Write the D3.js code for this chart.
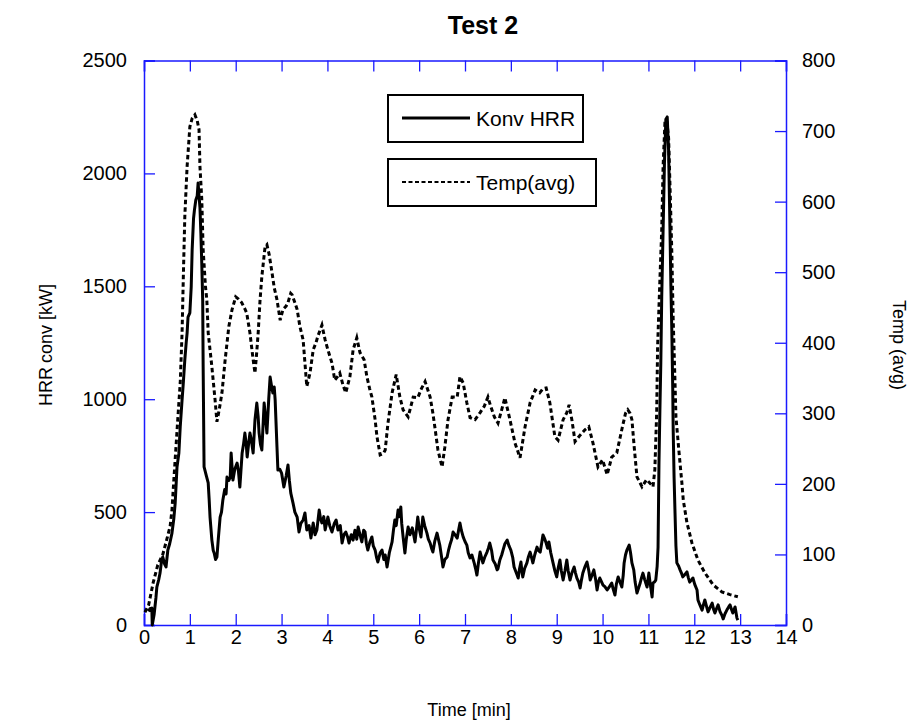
<!DOCTYPE html>
<html lang="en">
<head>
  <meta charset="UTF-8">
  <title>Test 2</title>
  <style>
    body, html { margin: 0; padding: 0; background: #fff; }
    svg { display: block; font-family: "Liberation Sans", Arial, sans-serif; }
  </style>
</head>
<body>
  <svg id="svg" width="918" height="725"></svg>

  <script src="https://d3js.org/d3.v7.min.js"></script>
  <script>
    // ----- DATA ----------
    const xTicks = [0, 1, 2, 3, 4, 5, 6, 7, 8, 9, 10, 11, 12, 13, 14]
    const leftTicks = [0, 500, 1000, 1500, 2000, 2500]
    const rightTicks = [0, 100, 200, 300, 400, 500, 600, 700, 800]

    // Konv HRR [kW]
    const hrrTime = [0.10, 0.13, 0.17, 0.18, 0.22, 0.26, 0.28, 0.32, 0.35, 0.38, 0.41, 0.45, 0.48, 0.52, 0.56, 0.61, 0.65, 0.68, 0.72, 0.76, 0.79, 0.83, 0.86, 0.89, 0.92, 0.94, 0.96, 1.00, 1.03, 1.05, 1.08, 1.10, 1.13, 1.16, 1.18, 1.20, 1.22, 1.24, 1.26, 1.28, 1.29, 1.31, 1.36, 1.40, 1.42, 1.44, 1.48, 1.51, 1.53, 1.56, 1.59, 1.62, 1.66, 1.69, 1.72, 1.76, 1.79, 1.81, 1.85, 1.88, 1.90, 1.92, 1.94, 1.98, 2.03, 2.06, 2.09, 2.14, 2.17, 2.20, 2.23, 2.25, 2.28, 2.31, 2.34, 2.38, 2.42, 2.46, 2.49, 2.51, 2.54, 2.57, 2.60, 2.62, 2.65, 2.68, 2.72, 2.75, 2.78, 2.81, 2.84, 2.86, 2.90, 2.92, 2.96, 3.00, 3.05, 3.10, 3.14, 3.17, 3.20, 3.25, 3.29, 3.34, 3.38, 3.42, 3.47, 3.51, 3.55, 3.60, 3.64, 3.69, 3.73, 3.77, 3.82, 3.85, 3.88, 3.92, 3.95, 4.01, 4.05, 4.10, 4.15, 4.19, 4.23, 4.28, 4.32, 4.36, 4.40, 4.44, 4.47, 4.52, 4.56, 4.60, 4.64, 4.67, 4.71, 4.75, 4.79, 4.82, 4.85, 4.88, 4.93, 4.97, 5.00, 5.04, 5.07, 5.10, 5.15, 5.19, 5.23, 5.26, 5.30, 5.35, 5.41, 5.44, 5.47, 5.50, 5.54, 5.57, 5.60, 5.62, 5.65, 5.69, 5.72, 5.76, 5.80, 5.85, 5.88, 5.91, 5.94, 5.97, 6.00, 6.04, 6.08, 6.12, 6.17, 6.20, 6.24, 6.27, 6.30, 6.34, 6.39, 6.42, 6.45, 6.49, 6.52, 6.56, 6.61, 6.64, 6.67, 6.71, 6.74, 6.78, 6.83, 6.86, 6.89, 6.92, 6.96, 7.00, 7.04, 7.07, 7.11, 7.15, 7.20, 7.23, 7.26, 7.29, 7.33, 7.36, 7.39, 7.43, 7.48, 7.51, 7.54, 7.58, 7.61, 7.66, 7.70, 7.72, 7.76, 7.80, 7.83, 7.87, 7.92, 7.96, 8.00, 8.04, 8.07, 8.12, 8.16, 8.19, 8.22, 8.24, 8.26, 8.30, 8.35, 8.38, 8.42, 8.45, 8.48, 8.52, 8.57, 8.60, 8.64, 8.67, 8.70, 8.74, 8.77, 8.80, 8.83, 8.87, 8.92, 8.96, 9.00, 9.03, 9.07, 9.10, 9.14, 9.18, 9.22, 9.25, 9.29, 9.33, 9.38, 9.41, 9.44, 9.48, 9.51, 9.54, 9.57, 9.62, 9.66, 9.70, 9.73, 9.77, 9.81, 9.85, 9.88, 9.91, 9.94, 9.98, 10.01, 10.05, 10.10, 10.15, 10.20, 10.23, 10.27, 10.30, 10.34, 10.38, 10.42, 10.45, 10.47, 10.50, 10.53, 10.56, 10.58, 10.61, 10.64, 10.68, 10.71, 10.75, 10.78, 10.82, 10.85, 10.88, 10.92, 10.97, 11.01, 11.04, 11.08, 11.10, 11.13, 11.16, 11.19, 11.21, 11.23, 11.25, 11.27, 11.29, 11.32, 11.35, 11.38, 11.41, 11.44, 11.47, 11.49, 11.51, 11.53, 11.54, 11.56, 11.58, 11.60, 11.62, 11.66, 11.69, 11.72, 11.75, 11.80, 11.84, 11.87, 11.90, 11.94, 11.97, 12.01, 12.06, 12.08, 12.12, 12.17, 12.20, 12.23, 12.27, 12.30, 12.35, 12.39, 12.42, 12.45, 12.49, 12.52, 12.56, 12.60, 12.63, 12.67, 12.71, 12.75, 12.78, 12.81, 12.84, 12.87, 12.89, 12.93, 12.95]
    const hrrKW = [60, 72, 75, 0, 45, 120, 168, 200, 230, 280, 301, 270, 257, 332, 360, 407, 470, 540, 700, 760, 877, 996, 1080, 1174, 1250, 1293, 1364, 1382, 1500, 1661, 1800, 1838, 1882, 1900, 1958, 1900, 1850, 1736, 1600, 1440, 1143, 700, 660, 629, 560, 478, 376, 330, 319, 290, 301, 380, 478, 500, 554, 600, 580, 655, 640, 655, 762, 700, 642, 690, 717, 680, 611, 762, 800, 850, 800, 744, 800, 850, 820, 762, 908, 983, 920, 850, 800, 775, 900, 983, 920, 850, 1000, 1098, 1060, 1028, 1054, 997, 788, 686, 690, 673, 611, 660, 709, 640, 585, 540, 500, 478, 412, 450, 465, 496, 421, 440, 385, 452, 400, 421, 509, 470, 452, 480, 421, 478, 440, 412, 450, 465, 421, 440, 363, 400, 412, 390, 363, 400, 376, 420, 380, 434, 400, 368, 420, 412, 360, 332, 370, 390, 350, 332, 300, 279, 320, 332, 290, 310, 257, 320, 368, 420, 465, 440, 509, 480, 523, 450, 390, 319, 380, 434, 400, 430, 400, 368, 420, 478, 430, 390, 478, 440, 407, 380, 363, 340, 323, 370, 407, 380, 354, 300, 257, 290, 301, 330, 354, 380, 412, 400, 385, 420, 452, 420, 390, 370, 354, 320, 297, 310, 275, 250, 221, 270, 323, 300, 275, 300, 323, 340, 363, 330, 288, 270, 244, 250, 288, 310, 332, 360, 376, 350, 332, 300, 257, 230, 208, 250, 279, 240, 213, 250, 275, 300, 323, 300, 275, 310, 345, 330, 323, 360, 399, 380, 363, 340, 368, 320, 275, 240, 213, 250, 288, 240, 199, 240, 288, 240, 199, 230, 257, 230, 208, 190, 164, 200, 230, 260, 279, 240, 199, 220, 244, 200, 155, 190, 208, 190, 177, 170, 155, 170, 186, 160, 133, 180, 213, 190, 168, 220, 275, 310, 332, 345, 354, 320, 275, 244, 190, 142, 160, 186, 210, 230, 200, 168, 230, 180, 124, 186, 190, 199, 260, 345, 717, 950, 1160, 1453, 1749, 2050, 2240, 2250, 2100, 1749, 1500, 1306, 1050, 864, 650, 496, 350, 275, 260, 244, 230, 213, 225, 235, 210, 190, 200, 208, 180, 155, 111, 90, 66, 90, 111, 80, 58, 80, 97, 70, 53, 75, 89, 60, 44, 27, 50, 66, 80, 89, 70, 53, 70, 80, 31, 22]

    // Temp(avg)
    const tempTime = [0.02, 0.10, 0.20, 0.30, 0.41, 0.50, 0.57, 0.61, 0.65, 0.70, 0.75, 0.79, 0.83, 0.86, 0.89, 0.94, 1.00, 1.05, 1.11, 1.16, 1.20, 1.22, 1.26, 1.29, 1.34, 1.37, 1.40, 1.44, 1.48, 1.55, 1.59, 1.64, 1.70, 1.77, 1.85, 1.92, 2.00, 2.06, 2.13, 2.20, 2.24, 2.31, 2.38, 2.42, 2.45, 2.49, 2.53, 2.57, 2.64, 2.68, 2.73, 2.79, 2.84, 2.90, 2.97, 3.03, 3.10, 3.14, 3.20, 3.23, 3.30, 3.34, 3.40, 3.47, 3.51, 3.55, 3.62, 3.69, 3.75, 3.79, 3.84, 3.88, 3.95, 4.01, 4.10, 4.16, 4.22, 4.27, 4.34, 4.40, 4.49, 4.56, 4.64, 4.71, 4.80, 4.86, 4.92, 4.97, 5.04, 5.08, 5.15, 5.22, 5.26, 5.32, 5.41, 5.50, 5.58, 5.65, 5.76, 5.82, 5.87, 5.97, 6.05, 6.13, 6.24, 6.30, 6.35, 6.41, 6.50, 6.56, 6.63, 6.72, 6.83, 6.89, 6.96, 7.04, 7.11, 7.22, 7.33, 7.42, 7.50, 7.56, 7.64, 7.72, 7.80, 7.87, 7.98, 8.09, 8.20, 8.31, 8.42, 8.53, 8.63, 8.70, 8.77, 8.85, 8.96, 9.03, 9.14, 9.22, 9.27, 9.33, 9.40, 9.51, 9.62, 9.70, 9.79, 9.90, 10.00, 10.10, 10.20, 10.31, 10.42, 10.50, 10.55, 10.60, 10.64, 10.69, 10.75, 10.86, 10.96, 11.05, 11.10, 11.14, 11.18, 11.20, 11.25, 11.29, 11.32, 11.36, 11.40, 11.44, 11.48, 11.51, 11.54, 11.58, 11.60, 11.66, 11.73, 11.76, 11.84, 11.95, 12.08, 12.23, 12.41, 12.60, 12.78, 12.95]
    const tempAvg = [18, 28, 60, 85, 100, 122, 140, 163, 205, 255, 305, 343, 414, 500, 579, 650, 706, 718, 723, 715, 702, 650, 603, 532, 480, 461, 414, 390, 366, 319, 288, 305, 329, 376, 423, 447, 465, 462, 457, 448, 442, 414, 376, 357, 380, 414, 460, 494, 536, 539, 525, 500, 478, 461, 432, 447, 452, 457, 470, 468, 455, 447, 423, 404, 371, 338, 357, 390, 400, 409, 418, 425, 404, 390, 371, 347, 352, 357, 340, 329, 352, 390, 407, 386, 376, 352, 335, 323, 291, 267, 241, 243, 248, 286, 329, 355, 323, 305, 295, 310, 323, 322, 335, 345, 323, 300, 277, 248, 224, 252, 291, 323, 323, 352, 343, 315, 294, 291, 301, 310, 323, 310, 295, 286, 305, 322, 291, 258, 237, 281, 315, 333, 329, 335, 336, 315, 267, 262, 291, 301, 312, 291, 260, 269, 277, 281, 258, 224, 234, 213, 238, 244, 277, 300, 305, 300, 291, 252, 210, 196, 206, 200, 196, 220, 301, 394, 489, 560, 650, 712, 715, 690, 600, 528, 433, 343, 295, 250, 201, 177, 145, 116, 92, 74, 57, 47, 43, 40]

    // ----- LAYOUT ----------
    const plot = {left: 144, right: 786, top: 60.5, bottom: 625}
    const frameColor = '#1a1aff'
    const svg = d3.select('#svg')

    // -------- SCALES ------------
    const xScale = d3.scaleLinear().domain([0, 14]).range([plot.left, plot.right])
    const yLeft = d3.scaleLinear().domain([0, 2500]).range([plot.bottom, plot.top])
    const yRight = d3.scaleLinear().domain([0, 800]).range([plot.bottom, plot.top])

    // -------- AXES (ticks inward) ------------
    const tickLen = 11
    const axisFont = '20px'

    const bottomAxis = d3.axisBottom(xScale).tickValues(xTicks).tickSize(-tickLen).tickPadding(4.5)
    const topAxis = d3.axisTop(xScale).tickValues(xTicks).tickSize(-tickLen).tickFormat('')
    const leftAxis = d3.axisLeft(yLeft).tickValues(leftTicks).tickSize(-tickLen).tickPadding(17)
      .tickFormat(d3.format('d'))
    const rightAxis = d3.axisRight(yRight).tickValues(rightTicks).tickSize(-tickLen).tickPadding(16)
      .tickFormat(d3.format('d'))

    function styleAxis(g) {
      g.select('.domain').attr('stroke', frameColor).attr('stroke-width', 1.5)
      g.selectAll('.tick line').attr('stroke', frameColor).attr('stroke-width', 1.3)
      g.selectAll('.tick text')
        .attr('fill', '#000')
        .style('font-family', '"Liberation Sans", Arial, sans-serif')
        .style('font-size', axisFont)
    }

    svg.append('g').attr('transform', `translate(0, ${plot.bottom})`).call(bottomAxis).call(styleAxis)
    svg.append('g').attr('transform', `translate(0, ${plot.top})`).call(topAxis).call(styleAxis)
    svg.append('g').attr('transform', `translate(${plot.left}, 0)`).call(leftAxis).call(styleAxis)
    svg.append('g').attr('transform', `translate(${plot.right}, 0)`).call(rightAxis).call(styleAxis)

    // -------- LINES ------------
    const hrrData = hrrTime.map((t, i) => [t, hrrKW[i]])
    const tempData = tempTime.map((t, i) => [t, tempAvg[i]])

    const hrrLine = d3.line().x(d => xScale(d[0])).y(d => yLeft(d[1]))
    const tempLine = d3.line().x(d => xScale(d[0])).y(d => yRight(d[1]))

    svg.append('path')
      .datum(tempData)
      .attr('d', tempLine)
      .attr('fill', 'none')
      .attr('stroke', '#000')
      .attr('stroke-width', 3)
      .attr('stroke-dasharray', '4.5,3')

    svg.append('path')
      .datum(hrrData)
      .attr('d', hrrLine)
      .attr('fill', 'none')
      .attr('stroke', '#000')
      .attr('stroke-width', 3)
      .attr('stroke-linejoin', 'round')

    // -------- LEGEND ------------
    const legendItems = [
      {label: 'Konv HRR', dash: null, y: 95, w: 195},
      {label: 'Temp(avg)', dash: '4,2.5', y: 159, w: 208}
    ]
    legendItems.forEach(item => {
      const g = svg.append('g').attr('transform', `translate(388, ${item.y})`)
      g.append('rect')
        .attr('width', item.w).attr('height', 47)
        .attr('fill', '#fff').attr('stroke', '#000').attr('stroke-width', 2)
      g.append('line')
        .attr('x1', 14).attr('x2', 82).attr('y1', 23).attr('y2', 23)
        .attr('stroke', '#000')
        .attr('stroke-width', item.dash ? 2 : 3)
        .attr('stroke-dasharray', item.dash)
      g.append('text')
        .attr('x', 88).attr('y', 31)
        .style('font-size', '21px')
        .text(item.label)
    })

    // -------- LABELS ------------
    svg.append('text')
      .attr('x', 483).attr('y', 34)
      .attr('text-anchor', 'middle')
      .style('font-size', '25px').style('font-weight', 'bold')
      .text('Test 2')

    svg.append('text')
      .attr('x', 469).attr('y', 716)
      .attr('text-anchor', 'middle')
      .style('font-size', '18px')
      .text('Time [min]')

    const yLabel = svg.append('text')
      .attr('transform', 'translate(52, 345) rotate(-90)')
      .attr('text-anchor', 'middle')
      .style('font-size', '18px')
    yLabel.append('tspan').text('HRR')
    yLabel.append('tspan').attr('dx', 4).text('conv [kW]')

    svg.append('text')
      .attr('transform', 'translate(893, 345) rotate(90)')
      .attr('text-anchor', 'middle')
      .style('font-size', '18px')
      .text('Temp (avg)')
  </script>
</body>
</html>
